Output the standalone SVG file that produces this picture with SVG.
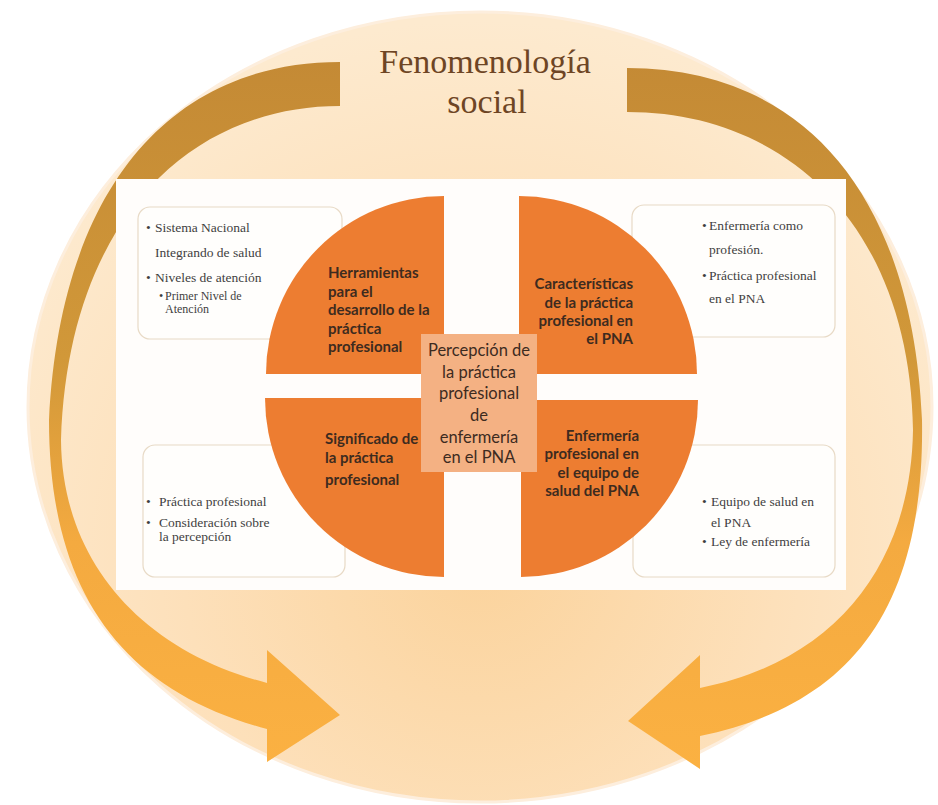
<svg xmlns="http://www.w3.org/2000/svg" width="938" height="805" viewBox="0 0 938 805">
<defs>
<radialGradient id="bg" gradientUnits="userSpaceOnUse" cx="480" cy="560" r="540">
<stop offset="0" stop-color="#fbd39c"/>
<stop offset="0.55" stop-color="#fde0ba"/>
<stop offset="1" stop-color="#fdeacf"/>
</radialGradient>
<linearGradient id="band" gradientUnits="userSpaceOnUse" x1="0" y1="60" x2="0" y2="770">
<stop offset="0" stop-color="#c48a35"/>
<stop offset="0.42" stop-color="#d19839"/>
<stop offset="0.68" stop-color="#f4aa40"/>
<stop offset="1" stop-color="#fbb142"/>
</linearGradient>
<style>
.box{fill:#fffefc;stroke:#e8dac6;stroke-width:1.2}
.bt{font-family:"Liberation Serif",serif;font-size:13.5px;fill:#3f3f3f}
.bs{font-family:"Liberation Serif",serif;font-size:12px;fill:#3f3f3f}
.q{fill:#ed7d31}
.qt{font-family:Lato,"Open Sans",sans-serif;font-weight:bold;font-size:15px;fill:#3d2b1f}
.ct{font-family:Lato,"Open Sans",sans-serif;font-size:16.5px;fill:#3d2b1f;text-anchor:middle}
.title{font-family:"Liberation Serif",serif;font-size:34px;fill:#6e4524;text-anchor:middle}
</style>
</defs>
<g id="background">
<ellipse cx="480" cy="407" rx="452" ry="395" fill="url(#bg)" stroke="#fdeedd" stroke-width="3"/>
</g>
<g id="connectors">
<path id="arrow-left" fill="url(#band)" d="M340,62 C170,62 60,190 49,420 C49,590 120,690 267,729 L267,762 L340,715 L267,650 L267,683 C140,650 62,560 61,440 C68,220 190,106 340,106 Z"/>
<path id="arrow-right" fill="url(#band)" d="M627,68 C800,68 912,190 922,420 C925,610 850,705 700,736 L700,769 L628,721 L700,655 L700,688 C840,660 911,560 913,430 C910,230 790,112 627,112 Z"/>
</g>
<g id="title">
<text class="title" x="485" y="73">Fenomenología</text>
<text class="title" x="487" y="113">social</text>
</g>
<g id="panel">
<rect x="116" y="179" width="730" height="411" fill="#fffdfb"/>
</g>
<g id="boxes">
<g id="box-tl">
<rect class="box" x="138" y="207" width="204" height="132" rx="12"/>
<text class="bt" x="146" y="232">•</text><text class="bt" x="155" y="232">Sistema Nacional</text>
<text class="bt" x="155" y="257">Integrando de salud</text>
<text class="bt" x="146" y="282">•</text><text class="bt" x="155" y="282">Niveles de atención</text>
<text class="bs" x="159" y="300">•</text><text class="bs" x="165" y="300">Primer Nivel de</text>
<text class="bs" x="165" y="313">Atención</text>
</g>
<g id="box-tr">
<rect class="box" x="632" y="205" width="203" height="132" rx="12"/>
<text class="bt" x="702" y="230">•</text><text class="bt" x="709" y="230">Enfermería como</text>
<text class="bt" x="709" y="254">profesión.</text>
<text class="bt" x="702" y="280">•</text><text class="bt" x="709" y="280">Práctica profesional</text>
<text class="bt" x="709" y="303">en el PNA</text>
</g>
<g id="box-bl">
<rect class="box" x="143" y="445" width="202" height="132" rx="12"/>
<text class="bt" x="146" y="506">•</text><text class="bt" x="159" y="506">Práctica profesional</text>
<text class="bt" x="146" y="527">•</text><text class="bt" x="159" y="527">Consideración sobre</text>
<text class="bt" x="159" y="541">la percepción</text>
</g>
<g id="box-br">
<rect class="box" x="633" y="445" width="202" height="132" rx="12"/>
<text class="bt" x="702" y="506">•</text><text class="bt" x="711" y="506">Equipo de salud en</text>
<text class="bt" x="711" y="527">el PNA</text>
<text class="bt" x="702" y="546">•</text><text class="bt" x="711" y="546">Ley de enfermería</text>
</g>
</g>
<g id="q-tl">
<path class="q" d="M444,374 L266,374 A178,178 0 0 1 444,196 Z"/>
<text class="qt" x="328" y="278">Herramientas</text>
<text class="qt" x="328" y="296.5">para el</text>
<text class="qt" x="328" y="315">desarrollo de la</text>
<text class="qt" x="328" y="333.5">práctica</text>
<text class="qt" x="328" y="352">profesional</text>
</g>
<g id="q-tr">
<path class="q" d="M519,374 L519,196 A178,178 0 0 1 697,374 Z"/>
<g text-anchor="end">
<text class="qt" x="633" y="289">Características</text>
<text class="qt" x="633" y="308">de la práctica</text>
<text class="qt" x="633" y="326">profesional en</text>
<text class="qt" x="633" y="344">el PNA</text>
</g>
</g>
<g id="q-bl">
<path class="q" d="M444,398 L444,577 A179,179 0 0 1 265,398 Z"/>
<text class="qt" x="325" y="444">Significado de</text>
<text class="qt" x="325" y="463">la práctica</text>
<text class="qt" x="325" y="485">profesional</text>
</g>
<g id="q-br">
<path class="q" d="M521,400 L698,400 A177,177 0 0 1 521,577 Z"/>
<g text-anchor="end">
<text class="qt" x="639" y="441">Enfermería</text>
<text class="qt" x="639" y="459">profesional en</text>
<text class="qt" x="639" y="478">el equipo de</text>
<text class="qt" x="639" y="496">salud del PNA</text>
</g>
</g>
<g id="center">
<rect x="421" y="334" width="116" height="138" fill="#f4b183"/>
<text class="ct" x="479" y="356">Percepción de</text>
<text class="ct" x="479" y="377.5">la práctica</text>
<text class="ct" x="479" y="399">profesional</text>
<text class="ct" x="479" y="421">de</text>
<text class="ct" x="479" y="443">enfermería</text>
<text class="ct" x="479" y="463">en el PNA</text>
</g>
</svg>
